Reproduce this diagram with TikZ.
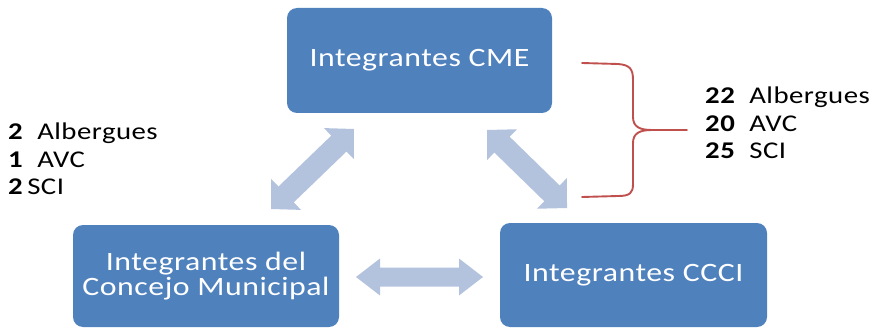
\documentclass[tikz,border=0pt]{standalone}
\usepackage{fontspec}
\setmainfont{Carlito}[FakeStretch=1.2,LetterSpace=2]
\usetikzlibrary{calc}
\definecolor{boxblue}{RGB}{79,129,189}
\definecolor{arrowblue}{RGB}{179,195,222}
\definecolor{bracered}{RGB}{192,80,77}
\tikzset{
  box/.style={fill=boxblue, rounded corners=10pt, inner sep=0pt, text=white, align=center,
    font=\fontsize{26.5}{25}\selectfont},
  note/.style={anchor=north west, inner sep=0pt, align=left, font=\fontsize{24}{27.5}\selectfont},
  blockarrow/.style={fill=arrowblue},
}
% #1 from, #2 to, #3 head length, #4 head half width, #5 shaft half width
\newcommand\dblarrow[5]{%
  \fill[blockarrow] (#1)
  -- ($(#1)!#3!(#2)!#4!90:(#2)$) -- ($(#1)!#3!(#2)!#5!90:(#2)$)
  -- ($(#2)!#3!(#1)!#5!-90:(#1)$) -- ($(#2)!#3!(#1)!#4!-90:(#1)$)
  -- (#2)
  -- ($(#2)!#3!(#1)!#4!90:(#1)$) -- ($(#2)!#3!(#1)!#5!90:(#1)$)
  -- ($(#1)!#3!(#2)!#5!-90:(#2)$) -- ($(#1)!#3!(#2)!#4!-90:(#2)$)
  -- cycle;}
\begin{document}
\begin{tikzpicture}[x=1pt,y=-1pt]
\useasboundingbox (0,0) rectangle (871,329);
% boxes
\node[box, minimum width=265pt, minimum height=105pt] (cme) at (419.5,60.5) {Integrantes CME};
\node[box, minimum width=266pt, minimum height=102pt] (cm) at (206,276) {Integrantes del\\Concejo Municipal};
\node[box, minimum width=267pt, minimum height=104pt] (ccci) at (633.5,275) {Integrantes CCCI};
% arrow end points
\coordinate (l1) at (354,129);
\coordinate (l2) at (271,209);
\coordinate (r1) at (487,130);
\coordinate (r2) at (567,208);
\coordinate (h1) at (356,277);
\coordinate (h2) at (483,277);
\dblarrow{l1}{l2}{21pt}{21.5pt}{11pt}
\dblarrow{r1}{r2}{21pt}{21.5pt}{11pt}
\dblarrow{h1}{h2}{24pt}{18.5pt}{9.5pt}
% brace
\coordinate (btop) at (582,63);
\coordinate (bbot) at (582,197);
\coordinate (btip) at (687,130);
\draw[bracered, line width=1.9pt, line cap=round, line join=round]
  (btop) -- (618,64) .. controls (630,65) and (633,69) .. (633,80)
  -- (633,117) .. controls (633,127) and (640,130) .. (652,130) -- (btip);
\draw[bracered, line width=1.9pt, line cap=round, line join=round]
  (652,130) .. controls (640,130) and (633,133) .. (633,143)
  -- (633,184) .. controls (633,193) and (630,196) .. (618,196) -- (bbot);
% notes
\node[note] (left) at (8,123) {\textbf{2}\ \ Albergues\\\textbf{1}\ \ AVC\\\textbf{2}\,SCI};
\node[note] (right) at (705,87) {\textbf{22}\ \ Albergues\\\textbf{20}\ \ AVC\\\textbf{25}\ \ SCI};
\end{tikzpicture}
\end{document}
